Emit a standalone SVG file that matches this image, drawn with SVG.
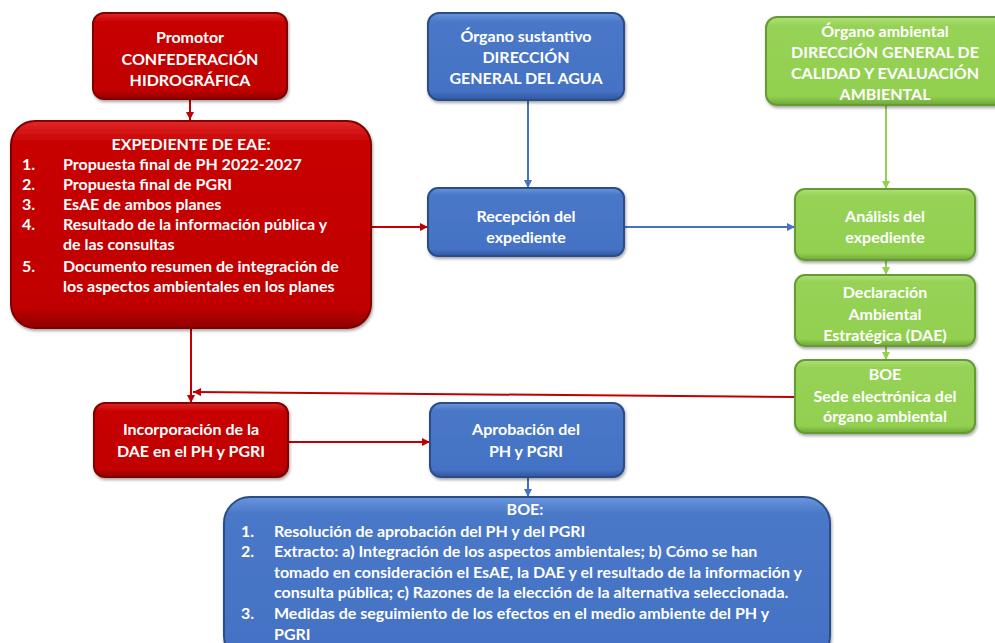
<svg xmlns="http://www.w3.org/2000/svg" width="995" height="643" viewBox="0 0 995 643">
<style>
.t{font-family:Lato,"Liberation Sans",sans-serif;font-weight:bold;font-size:16px;fill:#fff;}
.c{text-anchor:middle;}
.red{fill:url(#gr);stroke:#800000;stroke-width:2;filter:url(#sh);}
.blue{fill:url(#gb);stroke:#2a4d8a;stroke-width:2;filter:url(#sh);}
.green{fill:url(#gg);stroke:#669a33;stroke-width:2;filter:url(#sh);}
.lr{stroke:#c00000;stroke-width:2;fill:none;}
.lb{stroke:#4472c4;stroke-width:2;fill:none;}
.lg{stroke:#92d050;stroke-width:2;fill:none;}
</style>
<defs>
<linearGradient id="gr" x1="0" y1="0" x2="0" y2="1">
<stop offset="0" stop-color="#e02828"/><stop offset="0.1" stop-color="#c80404"/><stop offset="0.9" stop-color="#c00000"/><stop offset="1" stop-color="#900000"/>
</linearGradient>
<linearGradient id="gb" x1="0" y1="0" x2="0" y2="1">
<stop offset="0" stop-color="#6a96dc"/><stop offset="0.1" stop-color="#4a78c8"/><stop offset="0.9" stop-color="#4472c4"/><stop offset="1" stop-color="#30589f"/>
</linearGradient>
<linearGradient id="gg" x1="0" y1="0" x2="0" y2="1">
<stop offset="0" stop-color="#b0e07a"/><stop offset="0.1" stop-color="#96d256"/><stop offset="0.9" stop-color="#92d050"/><stop offset="1" stop-color="#6fa838"/>
</linearGradient>
<filter id="sh" x="-10%" y="-10%" width="120%" height="130%">
<feDropShadow dx="1" dy="2" stdDeviation="1.5" flood-color="#000" flood-opacity="0.35"/>
</filter>
<marker id="ar" viewBox="0 0 10 10" refX="10" refY="5" markerWidth="4" markerHeight="4" orient="auto"><path d="M0,0L10,5L0,10z" fill="#c00000"/></marker>
<marker id="ab" viewBox="0 0 10 10" refX="10" refY="5" markerWidth="4" markerHeight="4" orient="auto"><path d="M0,0L10,5L0,10z" fill="#4472c4"/></marker>
<marker id="ag" viewBox="0 0 10 10" refX="10" refY="5" markerWidth="4" markerHeight="4" orient="auto"><path d="M0,0L10,5L0,10z" fill="#92d050"/></marker>
</defs>

<g id="connectors">
<line class="lr" x1="190" y1="100" x2="190" y2="120" marker-end="url(#ar)"/>
<line class="lr" x1="371" y1="227" x2="428" y2="227" marker-end="url(#ar)"/>
<line class="lb" x1="528" y1="101" x2="528" y2="188" marker-end="url(#ab)"/>
<line class="lb" x1="624" y1="227" x2="795" y2="227" marker-end="url(#ab)"/>
<line class="lg" x1="886" y1="105" x2="886" y2="189" marker-end="url(#ag)"/>
<line class="lg" x1="886" y1="261" x2="886" y2="275" marker-end="url(#ag)"/>
<line class="lg" x1="886" y1="347" x2="886" y2="360" marker-end="url(#ag)"/>
<line class="lr" x1="795" y1="397" x2="193" y2="392" marker-end="url(#ar)"/>
<line class="lr" x1="191" y1="329" x2="191" y2="403" marker-end="url(#ar)"/>
<line class="lr" x1="288" y1="442" x2="430" y2="442" marker-end="url(#ar)"/>
<line class="lb" x1="528" y1="478" x2="528" y2="497" marker-end="url(#ab)"/>
</g>

<g id="promotor">
<rect class="red" x="93" y="13" width="194" height="86" rx="11"/>
<text class="t c" x="190" y="43">Promotor</text>
<text class="t c" x="190" y="65">CONFEDERACIÓN</text>
<text class="t c" x="190" y="86">HIDROGRÁFICA</text>
</g>

<g id="expediente">
<rect class="red" x="11" y="121" width="360" height="207" rx="24"/>
<text class="t c" x="191" y="150">EXPEDIENTE DE EAE:</text>
<text class="t" x="22" y="170">1.</text><text class="t" x="63" y="170">Propuesta final de PH 2022-2027</text>
<text class="t" x="22" y="190">2.</text><text class="t" x="63" y="190">Propuesta final de PGRI</text>
<text class="t" x="22" y="210">3.</text><text class="t" x="63" y="210">EsAE de ambos planes</text>
<text class="t" x="22" y="230">4.</text><text class="t" x="63" y="230">Resultado de la información pública y</text>
<text class="t" x="63" y="250">de las consultas</text>
<text class="t" x="22" y="272">5.</text><text class="t" x="63" y="272">Documento resumen de integración de</text>
<text class="t" x="63" y="292">los aspectos ambientales en los planes</text>
</g>

<g id="organo-sustantivo">
<rect class="blue" x="428" y="13" width="196" height="87" rx="11"/>
<text class="t c" x="526" y="42">Órgano sustantivo</text>
<text class="t c" x="526" y="63">DIRECCIÓN</text>
<text class="t c" x="526" y="84">GENERAL DEL AGUA</text>
</g>

<g id="recepcion">
<rect class="blue" x="428" y="188" width="196" height="68" rx="10"/>
<text class="t c" x="526" y="222">Recepción del</text>
<text class="t c" x="526" y="243">expediente</text>
</g>

<g id="organo-ambiental">
<rect class="green" x="766" y="17" width="245" height="88" rx="11"/>
<text class="t c" x="885" y="37">Órgano ambiental</text>
<text class="t c" x="885" y="58">DIRECCIÓN GENERAL DE</text>
<text class="t c" x="885" y="79">CALIDAD Y EVALUACIÓN</text>
<text class="t c" x="885" y="100">AMBIENTAL</text>
</g>

<g id="analisis">
<rect class="green" x="795" y="189" width="180" height="71" rx="10"/>
<text class="t c" x="885" y="222">Análisis del</text>
<text class="t c" x="885" y="243">expediente</text>
</g>

<g id="declaracion">
<rect class="green" x="795" y="275" width="180" height="71" rx="10"/>
<text class="t c" x="885" y="298">Declaración</text>
<text class="t c" x="885" y="320">Ambiental</text>
<text class="t c" x="885" y="341">Estratégica (DAE)</text>
</g>

<g id="boe-sede">
<rect class="green" x="795" y="360" width="180" height="73" rx="10"/>
<text class="t c" x="885" y="380">BOE</text>
<text class="t c" x="885" y="402">Sede electrónica del</text>
<text class="t c" x="885" y="422">órgano ambiental</text>
</g>

<g id="incorporacion">
<rect class="red" x="94" y="403" width="194" height="74" rx="11"/>
<text class="t c" x="191" y="435">Incorporación de la</text>
<text class="t c" x="191" y="457">DAE en el PH y PGRI</text>
</g>

<g id="aprobacion">
<rect class="blue" x="430" y="403" width="194" height="74" rx="11"/>
<text class="t c" x="526" y="435">Aprobación del</text>
<text class="t c" x="526" y="457">PH y PGRI</text>
</g>

<g id="boe">
<rect class="blue" x="224" y="497" width="606" height="165" rx="26"/>
<text class="t c" x="525" y="515">BOE:</text>
<text class="t" x="241" y="537">1.</text><text class="t" x="274" y="537">Resolución de aprobación del PH y del PGRI</text>
<text class="t" x="241" y="557">2.</text><text class="t" x="274" y="557">Extracto: a) Integración de los aspectos ambientales; b) Cómo se han</text>
<text class="t" x="274" y="578">tomado en consideración el EsAE, la DAE y el resultado de la información y</text>
<text class="t" x="274" y="598">consulta pública; c) Razones de la elección de la alternativa seleccionada.</text>
<text class="t" x="241" y="619">3.</text><text class="t" x="274" y="619">Medidas de seguimiento de los efectos en el medio ambiente del PH y</text>
<text class="t" x="274" y="640">PGRI</text>
</g>
</svg>
